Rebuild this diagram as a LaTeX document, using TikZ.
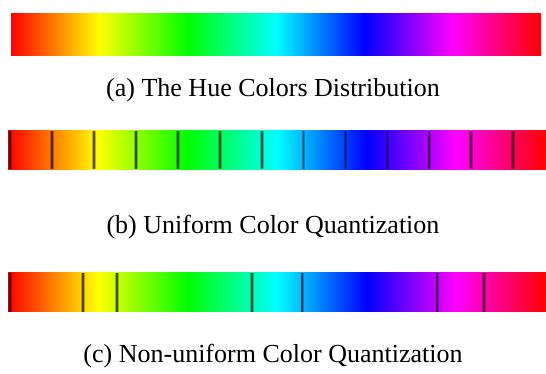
\documentclass[tikz,border=0pt]{standalone}
\usepackage{fontspec}
\setmainfont{Liberation Serif}
\pgfdeclarehorizontalshading{hue}{100bp}{color(0bp)=(red); color(25bp)=(red); color(33.333bp)=(yellow); color(41.667bp)=(green); color(50bp)=(cyan); color(58.333bp)=(blue); color(66.667bp)=(magenta); color(75bp)=(red); color(100bp)=(red)}
\begin{document}
\begin{tikzpicture}[x=1pt,y=-1pt,
  huebar/.style={shading=hue, draw=none, inner sep=0pt, outer sep=0pt},
  qhalo/.style={draw=black, draw opacity=0.25, line width=3.6pt},
  qline/.style={draw=black, draw opacity=0.6, line width=1.7pt},
  captext/.style={anchor=base, inner sep=0pt, font=\fontsize{26}{30}\selectfont}]
\useasboundingbox (0,0) rectangle (546,374);
% (a)
\node[huebar, minimum width=530pt, minimum height=42.4pt] (barA) at (276,34.5) {};
\node[captext] (capA) at (273,96.3) {(a) The Hue Colors Distribution};
% (b)
\node[huebar, minimum width=538pt, minimum height=38.5pt] (barB) at (277,150) {};
\foreach \x in {10,52.2,94.1,136,177.9,219.8,261.7,303.6,345.5,387.4,429.3,471.2,513.1}{
  \draw[qhalo] (\x,131) -- (\x,169);
  \draw[qline] (\x,131) -- (\x,169);}
\node[captext] (capB) at (273,233.5) {(b) Uniform Color Quantization};
% (c)
\node[huebar, minimum width=538pt, minimum height=39pt] (barC) at (277,292.2) {};
\foreach \x in {10,82.7,116.7,251.7,302.3,437.3,483.7}{
  \draw[qhalo] (\x,272.7) -- (\x,311.7);
  \draw[qline] (\x,272.7) -- (\x,311.7);}
\node[captext] (capC) at (273,362.5) {(c) Non-uniform Color Quantization};
\end{tikzpicture}
\end{document}
